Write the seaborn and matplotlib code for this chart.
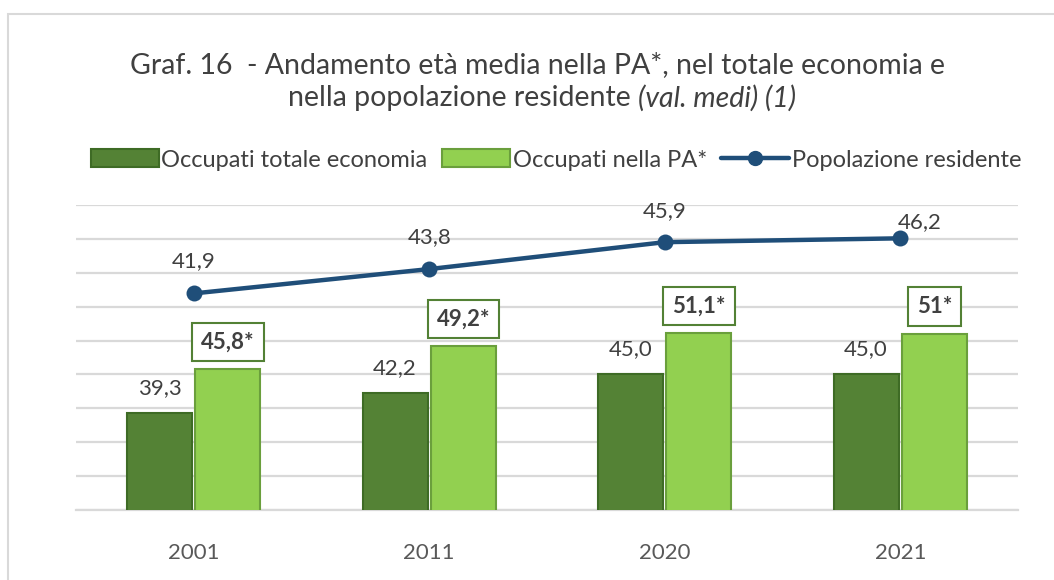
import numpy as np
import pandas as pd
import matplotlib
matplotlib.use("Agg")
import matplotlib.pyplot as plt
import seaborn as sns
from matplotlib.patches import Patch, Rectangle
from matplotlib.lines import Line2D

# dati
anni = ["2001", "2011", "2020", "2021"]
occupati_totale = [39.3, 42.2, 45.0, 45.0]
occupati_pa = [45.8, 49.2, 51.1, 51.0]
popolazione = [41.9, 43.8, 45.9, 46.2]
etichette_pa = ["45,8*", "49,2*", "51,1*", "51*"]
serie = ["Occupati totale economia", "Occupati nella PA*"]
serie_linea = "Popolazione residente"

def fmt(v):
    return f"{v:.1f}".replace(".", ",")

def createPlot():
    sns.set_theme(style="white")
    plt.rcParams["font.family"] = ["Lato", "DejaVu Sans"]

    df = pd.DataFrame({
        "anno": anni * 2,
        "serie": [serie[0]] * len(anni) + [serie[1]] * len(anni),
        "valore": occupati_totale + occupati_pa,
    })

    c_dark, c_dark_edge = "#548235", "#3e6b25"
    c_light, c_light_edge = "#92d050", "#6a9f3c"
    c_line = "#1f4e79"
    c_text = "#404040"
    c_grid = "#d9d9d9"

    fig = plt.figure(figsize=(10.54, 5.8), dpi=100)
    ax = fig.add_axes([76 / 1054, 70 / 580, 942 / 1054, 305 / 580])

    sns.barplot(data=df, x="anno", y="valore", hue="serie", order=anni,
                hue_order=serie, palette=[c_dark, c_light], width=0.58,
                gap=0.05, saturation=1, legend=False, ax=ax, zorder=3)
    for cont, ec in zip(ax.containers, [c_dark_edge, c_light_edge]):
        for p in cont:
            p.set_edgecolor(ec)
            p.set_linewidth(1.5)

    # linea su asse secondario
    ax2 = ax.twinx()
    pos = np.arange(len(anni))
    sns.lineplot(x=pos, y=popolazione, ax=ax2, color=c_line, linewidth=3.2,
                 marker="o", markersize=11.5, markeredgewidth=0, zorder=4)
    ax2.set_ylim(25, 48.8)
    ax2.axis("off")
    offs = [(0, 23.5), (0, 23), (0, 22.5), (14, 11.5)]
    for x, v, o in zip(pos, popolazione, offs):
        ax2.annotate(fmt(v), (x, v), xytext=o, textcoords="offset points",
                     ha="center", va="center", fontsize=16, color=c_text)

    ax.set_ylim(25, 70)
    ax.set_yticks(np.arange(25, 71, 5))
    ax.yaxis.grid(True, color=c_grid, linewidth=1.6, zorder=0)
    ax.set_axisbelow(True)
    ax.tick_params(axis="y", left=False, right=False, labelleft=False)
    ax.tick_params(axis="x", bottom=False, labelsize=16, labelcolor="#595959", pad=18)
    ax.set_xlabel("")
    ax.set_ylabel("")
    for s in ["top", "left", "right"]:
        ax.spines[s].set_visible(False)
    ax.spines["bottom"].set_color(c_grid)
    ax.spines["bottom"].set_linewidth(1.6)
    ax.set_xlim(-0.5, len(anni) - 0.5)

    # etichette barre
    for p, v in zip(ax.containers[0], occupati_totale):
        ax.annotate(fmt(v), (p.get_x() + p.get_width() / 2, v),
                    xytext=(0, 18), textcoords="offset points", ha="center",
                    va="center", fontsize=16, color=c_text)
    for p, v, lab in zip(ax.containers[1], occupati_pa, etichette_pa):
        ax.annotate(lab, (p.get_x() + p.get_width() / 2, v),
                    xytext=(0, 19.5), textcoords="offset points", ha="center",
                    va="center", fontsize=16, fontweight="bold", color=c_text,
                    bbox=dict(boxstyle="square,pad=0.4", fc="white",
                              ec="#538135", lw=1.5), zorder=5)

    # legenda
    handles = [
        Patch(facecolor=c_dark, edgecolor=c_dark_edge, lw=1.5),
        Patch(facecolor=c_light, edgecolor=c_light_edge, lw=1.5),
        Line2D([], [], color=c_line, lw=3.2, marker="o", markersize=10),
    ]
    leg = fig.legend(handles, serie + [serie_linea], loc="center",
                     bbox_to_anchor=(556 / 1054, 1 - 160 / 580), ncol=3,
                     frameon=False, fontsize=17, handlelength=2.9,
                     handleheight=0.8, handletextpad=0.1, columnspacing=0.6)
    for t in leg.get_texts():
        t.set_color(c_text)

    # titolo
    tfam = ["Lato", "DejaVu Sans"]
    fig.text(538 / 1054, 1 - 65 / 580,
             "Graf. 16  - Andamento età media nella PA*, nel totale economia e",
             ha="center", va="center", fontsize=20.5, color=c_text, family=tfam)
    t1 = fig.text(0, 1 - 98 / 580, "nella popolazione residente ",
                  ha="left", va="center", fontsize=20.5, color=c_text, family=tfam)
    t2 = fig.text(0, 1 - 98 / 580, "(val. medi) (1)", ha="left", va="center",
                  fontsize=20.5, color=c_text, family=tfam, style="italic")
    fig.canvas.draw()
    r = fig.canvas.get_renderer()
    w1 = t1.get_window_extent(r).width
    w2 = t2.get_window_extent(r).width
    x0 = 542 - (w1 + w2) / 2
    t1.set_x(x0 / 1054)
    t2.set_x((x0 + w1) / 1054)

    # cornice
    fig.add_artist(Rectangle((8 / 1054, -0.1), 1.2, 1 - 14 / 580 + 0.1,
                             transform=fig.transFigure, fill=False,
                             ec="#d9d9d9", lw=1.5))

    plt.savefig("out.png", dpi=100)
    plt.close()

createPlot()
